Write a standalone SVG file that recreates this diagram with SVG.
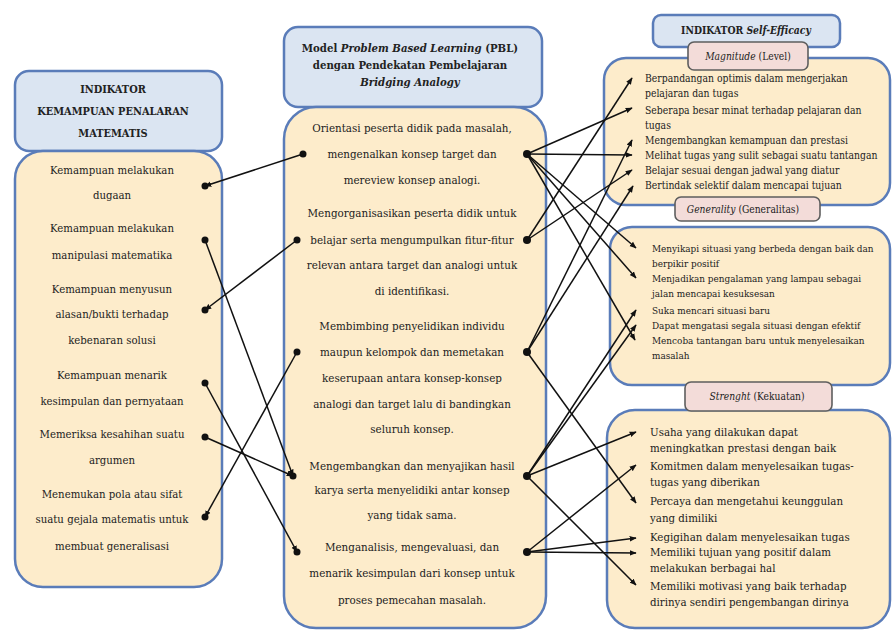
<svg xmlns="http://www.w3.org/2000/svg" width="894" height="632" viewBox="0 0 894 632">
<defs>
<marker id="ah" viewBox="0 0 10 10" refX="9" refY="5" markerWidth="7" markerHeight="7" markerUnits="userSpaceOnUse" orient="auto">
<path d="M0,1 L10,5 L0,9 z" fill="#111"/>
</marker>
<style>
.hdr{fill:#dbe5f2;stroke:#5a7cb9;stroke-width:2.5}
.body{fill:#fdeccb;stroke:#5a7cb9;stroke-width:2.5}
.tab{fill:#f3dcd9;stroke:#5e5e5e;stroke-width:1.6}
text{fill:#222;font-family:"DejaVu Serif Condensed","DejaVu Serif",serif;font-stretch:condensed}
.h{font-weight:bold;font-size:10.9px;text-anchor:middle}
.hr{font-weight:bold;font-size:10.3px;text-anchor:middle}
.hm{font-weight:bold;font-size:11.3px;text-anchor:middle}
.l{font-size:11.3px;text-anchor:middle}
.m{font-size:11.5px;text-anchor:middle}
.r{font-size:10.3px}
.g{font-size:9.9px}
.s{font-size:11.4px}
.t{font-size:10.2px;text-anchor:middle}
.c2{stroke:#111;stroke-width:1.5;fill:none;marker-end:url(#ah)}
.d{fill:#111}
</style>
</defs>

<g id="left-header">
<rect class="hdr" x="15" y="71" width="207" height="80" rx="14"/>
<text class="h" x="113" y="93">INDIKATOR</text>
<text class="h" x="113" y="115">KEMAMPUAN PENALARAN</text>
<text class="h" x="113" y="137">MATEMATIS</text>
</g>
<g id="left-body">
<rect class="body" x="15" y="151" width="207" height="436" rx="28"/>
<text class="l" x="112" y="174">Kemampuan melakukan</text>
<text class="l" x="112" y="199">dugaan</text>
<text class="l" x="112" y="232">Kemampuan melakukan</text>
<text class="l" x="112" y="259">manipulasi matematika</text>
<text class="l" x="112" y="293">Kemampuan menyusun</text>
<text class="l" x="112" y="318">alasan/bukti terhadap</text>
<text class="l" x="112" y="344">kebenaran solusi</text>
<text class="l" x="112" y="379">Kemampuan menarik</text>
<text class="l" x="112" y="405">kesimpulan dan pernyataan</text>
<text class="l" x="112" y="438">Memeriksa kesahihan suatu</text>
<text class="l" x="112" y="464">argumen</text>
<text class="l" x="112" y="498">Menemukan pola atau sifat</text>
<text class="l" x="112" y="523">suatu gejala matematis untuk</text>
<text class="l" x="112" y="550">membuat generalisasi</text>
</g>

<g id="middle-header">
<rect class="hdr" x="284" y="27" width="258" height="80" rx="14"/>
<text class="hm" x="410" y="52">Model <tspan font-style="italic">Problem Based Learning</tspan> (PBL)</text>
<text class="hm" x="410" y="69">dengan Pendekatan Pembelajaran</text>
<text class="hm" x="410" y="86" font-style="italic">Bridging Analogy</text>
</g>
<g id="middle-body">
<rect class="body" x="284" y="107" width="262" height="521" rx="32"/>
<text class="m" x="412" y="132">Orientasi peserta didik pada masalah,</text>
<text class="m" x="412" y="158">mengenalkan konsep target dan</text>
<text class="m" x="412" y="184">mereview konsep analogi.</text>
<text class="m" x="412" y="217">Mengorganisasikan peserta didik untuk</text>
<text class="m" x="412" y="244">belajar serta mengumpulkan fitur-fitur</text>
<text class="m" x="412" y="269">relevan antara target dan analogi untuk</text>
<text class="m" x="412" y="295">di identifikasi.</text>
<text class="m" x="412" y="330">Membimbing penyelidikan individu</text>
<text class="m" x="412" y="356">maupun kelompok dan memetakan</text>
<text class="m" x="412" y="382">keserupaan antara konsep-konsep</text>
<text class="m" x="412" y="408">analogi dan target lalu di bandingkan</text>
<text class="m" x="412" y="433">seluruh konsep.</text>
<text class="m" x="412" y="470">Mengembangkan dan menyajikan hasil</text>
<text class="m" x="412" y="494">karya serta menyelidiki antar konsep</text>
<text class="m" x="412" y="519">yang tidak sama.</text>
<text class="m" x="412" y="551">Menganalisis, mengevaluasi, dan</text>
<text class="m" x="412" y="577">menarik kesimpulan dari konsep untuk</text>
<text class="m" x="412" y="604">proses pemecahan masalah.</text>
</g>

<g id="right-header">
<rect class="hdr" x="653" y="15" width="187" height="32" rx="8"/>
<text class="hr" x="746" y="34">INDIKATOR <tspan font-style="italic">Self-Efficacy</tspan></text>
</g>

<g id="magnitude">
<rect class="body" x="604" y="58" width="286" height="147" rx="22"/>
<rect class="tab" x="688" y="42" width="120" height="28" rx="6"/>
<text class="t" x="748" y="60"><tspan font-style="italic">Magnitude</tspan> (Level)</text>
<text class="r" x="645" y="82">Berpandangan optimis dalam mengerjakan</text>
<text class="r" x="645" y="97">pelajaran dan tugas</text>
<text class="r" x="645" y="114">Seberapa besar minat terhadap pelajaran dan</text>
<text class="r" x="645" y="129">tugas</text>
<text class="r" x="645" y="144">Mengembangkan kemampuan dan prestasi</text>
<text class="r" x="645" y="159">Melihat tugas yang sulit sebagai suatu tantangan</text>
<text class="r" x="645" y="174">Belajar sesuai dengan jadwal yang diatur</text>
<text class="r" x="645" y="189">Bertindak selektif dalam mencapai tujuan</text>
</g>

<g id="generality">
<rect class="body" x="610" y="227" width="280" height="158" rx="22"/>
<rect class="tab" x="675" y="197" width="145" height="24" rx="6"/>
<text class="t" x="743" y="213"><tspan font-style="italic">Generality</tspan> (Generalitas)</text>
<text class="g" x="652" y="252">Menyikapi situasi yang berbeda dengan baik dan</text>
<text class="g" x="652" y="267">berpikir positif</text>
<text class="g" x="652" y="282">Menjadikan pengalaman yang lampau sebagai</text>
<text class="g" x="652" y="297">jalan mencapai kesuksesan</text>
<text class="g" x="652" y="314">Suka mencari situasi baru</text>
<text class="g" x="652" y="329">Dapat mengatasi segala situasi dengan efektif</text>
<text class="g" x="652" y="344">Mencoba tantangan baru untuk menyelesaikan</text>
<text class="g" x="652" y="359">masalah</text>
</g>

<g id="strength">
<rect class="body" x="607" y="410" width="283" height="218" rx="28"/>
<rect class="tab" x="685" y="382" width="147" height="29" rx="6"/>
<text class="t" x="757" y="400"><tspan font-style="italic">Strenght</tspan> (Kekuatan)</text>
<text class="s" x="650" y="436">Usaha yang dilakukan dapat</text>
<text class="s" x="650" y="452">meningkatkan prestasi dengan baik</text>
<text class="s" x="650" y="470">Komitmen dalam menyelesaikan tugas-</text>
<text class="s" x="650" y="486">tugas yang diberikan</text>
<text class="s" x="650" y="505">Percaya dan mengetahui keunggulan</text>
<text class="s" x="650" y="522">yang dimiliki</text>
<text class="s" x="650" y="541">Kegigihan dalam menyelesaikan tugas</text>
<text class="s" x="650" y="556">Memiliki tujuan yang positif dalam</text>
<text class="s" x="650" y="572">melakukan berbagai hal</text>
<text class="s" x="650" y="590">Memiliki motivasi yang baik terhadap</text>
<text class="s" x="650" y="606">dirinya sendiri pengembangan dirinya</text>
</g>

<g id="connectors">
<line class="c2" x1="303" y1="154" x2="205" y2="186"/>
<line class="c2" x1="297" y1="240" x2="205" y2="310"/>
<line class="c2" x1="297" y1="352" x2="205" y2="517"/>
<line class="c2" x1="205" y1="240" x2="293" y2="476"/>
<line class="c2" x1="205" y1="437" x2="293" y2="476"/>
<line class="c2" x1="205" y1="383" x2="297" y2="552"/>
<line class="c2" x1="527" y1="154" x2="632" y2="108"/>
<line class="c2" x1="527" y1="154" x2="632" y2="155"/>
<line class="c2" x1="527" y1="154" x2="636" y2="248"/>
<line class="c2" x1="527" y1="154" x2="636" y2="278"/>
<line class="c2" x1="527" y1="154" x2="635" y2="340"/>
<line class="c2" x1="527" y1="240" x2="632" y2="78"/>
<line class="c2" x1="527" y1="240" x2="632" y2="170"/>
<line class="c2" x1="527" y1="352" x2="632" y2="140"/>
<line class="c2" x1="527" y1="352" x2="633" y2="186"/>
<line class="c2" x1="527" y1="352" x2="636" y2="503"/>
<line class="c2" x1="527" y1="476" x2="636" y2="310"/>
<line class="c2" x1="527" y1="476" x2="636" y2="325"/>
<line class="c2" x1="527" y1="476" x2="636" y2="432"/>
<line class="c2" x1="527" y1="476" x2="636" y2="585"/>
<line class="c2" x1="527" y1="552" x2="636" y2="465"/>
<line class="c2" x1="527" y1="552" x2="636" y2="538"/>
<line class="c2" x1="527" y1="552" x2="636" y2="553"/>
<circle class="d" cx="205" cy="186" r="3.5"/>
<circle class="d" cx="205" cy="240" r="3.5"/>
<circle class="d" cx="205" cy="310" r="3.5"/>
<circle class="d" cx="205" cy="383" r="3.5"/>
<circle class="d" cx="205" cy="437" r="3.5"/>
<circle class="d" cx="205" cy="517" r="3.5"/>
<circle class="d" cx="303" cy="154" r="3.5"/>
<circle class="d" cx="297" cy="240" r="3.5"/>
<circle class="d" cx="297" cy="352" r="3.5"/>
<circle class="d" cx="293" cy="476" r="3.5"/>
<circle class="d" cx="297" cy="552" r="3.5"/>
<circle class="d" cx="527" cy="154" r="4"/>
<circle class="d" cx="527" cy="240" r="4"/>
<circle class="d" cx="527" cy="352" r="4"/>
<circle class="d" cx="527" cy="476" r="4"/>
<circle class="d" cx="527" cy="552" r="4"/>
</g>
</svg>
